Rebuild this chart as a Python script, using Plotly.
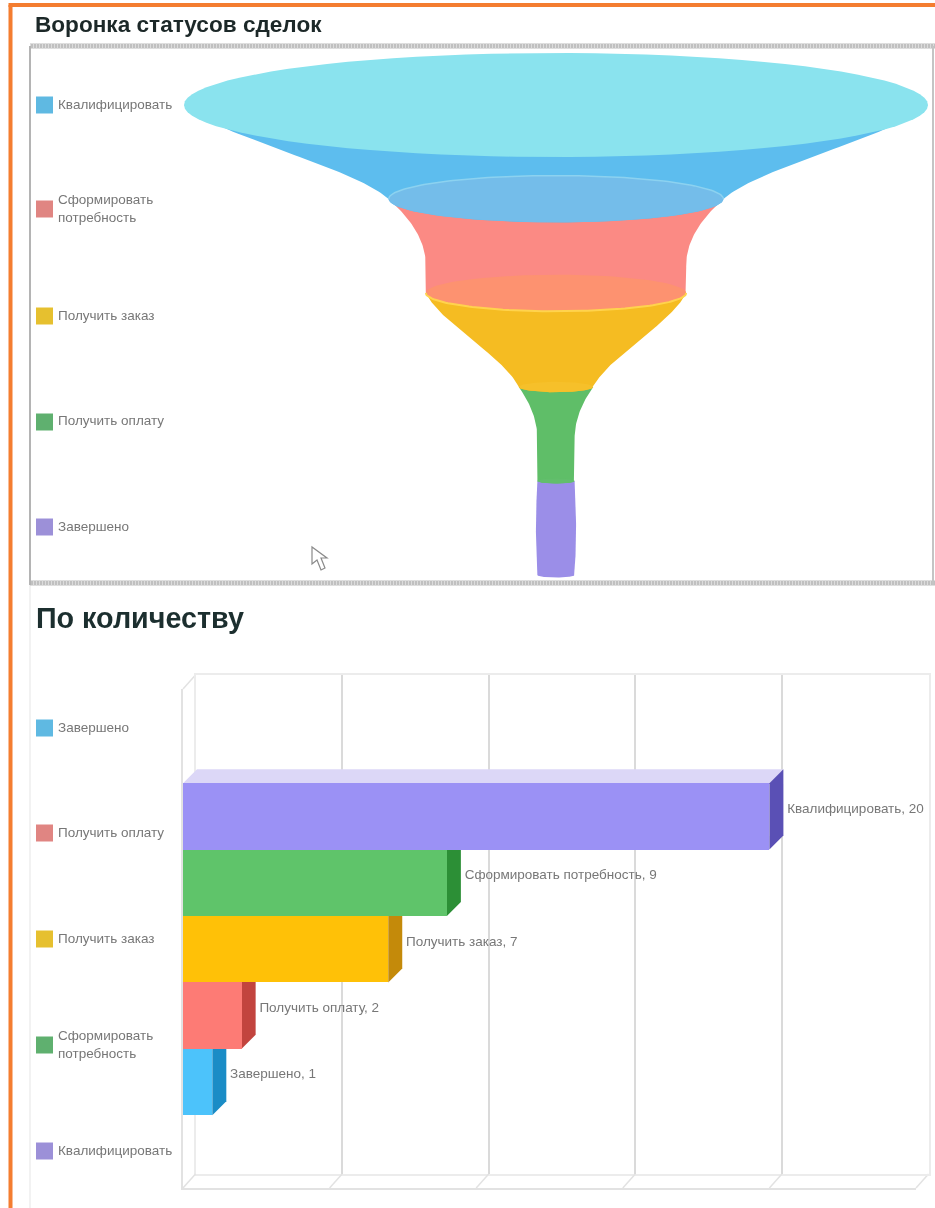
import math
import plotly.graph_objects as go

# ---------- data ----------
funnel_title = "Воронка статусов сделок"
bar_title = "По количеству"
funnel_labels = ["Квалифицировать", "Сформировать<br>потребность", "Получить заказ", "Получить оплату", "Завершено"]
funnel_values = [20, 9, 7, 2, 1]
funnel_legend_colors = ["#5fb9e2", "#e08582", "#e6c02f", "#5fb06f", "#9c90d8"]
funnel_body_colors = ["#5dbdee", "#fb8a84", "#f5bc22", "#5fbe68", "#9b8ee8"]
funnel_inner_colors = ["#74bdea", "#fd9270", "#f6c02a", "#62be6c", None]
funnel_shoulder = [None, 0.7, None, 0.55, None]

bar_legend_labels = ["Завершено", "Получить оплату", "Получить заказ", "Сформировать<br>потребность", "Квалифицировать"]
bar_legend_colors = ["#5fb9e2", "#e08582", "#e6c02f", "#5fb06f", "#9c90d8"]
bar_labels = ["Завершено", "Получить оплату", "Получить заказ", "Сформировать потребность", "Квалифицировать"]
bar_values = [1, 2, 7, 9, 20]
bar_positions = [0, 1, 2, 3, 4]
bar_colors = ["#4cc3fb", "#fd7b75", "#ffc107", "#5fc46a", "#9b91f5"]
bar_side_colors = ["#1a8cc6", "#c2443e", "#c48a0a", "#2c8f36", "#5a50b5"]
bar_top_colors = ["#bde8fd", "#fdd0ce", "#ffe9a8", "#c4eac8", "#dcd7f7"]
x_ticks = [0, 5, 10, 15, 20, 25]

# ---------- layout constants ----------
W, H = 935, 1208
PX_PER_VALUE = 37.2
PX_PER_LEVEL = 94
FUNNEL_CX, FUNNEL_TOP = 556, 105
ELLIPSE = 0.14
K = PX_PER_VALUE / 2 * ELLIPSE / PX_PER_LEVEL
FRONT_L, FRONT_R, FRONT_T, FRONT_B = 183, 916, 689, 1188
DEPTH = 14
WALL_SHIFT = 12.5
BAND = 66.4
BASE_Y = 1082
PX_PER_UNIT = (FRONT_R - FRONT_L) / x_ticks[-1]
dx = DEPTH / PX_PER_UNIT
dx_wall = WALL_SHIFT / PX_PER_UNIT
dy = DEPTH / BAND
y_low, y_high = (BASE_Y - FRONT_B) / BAND, (BASE_Y - FRONT_T) / BAND
TEXT = "#777777"
FONT = "Liberation Sans"


def fx(px):
    return px / W


def fy(py):
    return 1 - py / H


def ease(t, end):
    if end is None:
        return (t + 3 * t * t - 2 * t * t * t) / 2
    u = min(t / end, 1)
    return 1 - (1 - u) ** 2


def ellipse(value, level, a0=0, a1=360, n=90):
    xs, ys = [], []
    for i in range(n + 1):
        a = math.radians(a0 + (a1 - a0) * i / n)
        xs.append(value / 2 * math.cos(a))
        ys.append(level + value * K * math.sin(a))
    return xs, ys


def stage(i):
    v0 = funnel_values[i]
    last = i == len(funnel_values) - 1
    v1 = v0 if last else funnel_values[i + 1]
    ts = [k / 60 for k in range(61)]
    if last:
        hw = [v0 / 2 * (1 + 0.08 * math.sin(math.pi * t)) for t in ts]
    else:
        hw = [(v0 + (v1 - v0) * ease(t, funnel_shoulder[i])) / 2 for t in ts]
    ly = [i + t for t in ts]
    ax, ay = ellipse(v1, i + 1, 0, 180)
    xs = [h for h in hw] + ax + [-h for h in reversed(hw)]
    ys = ly + ay + list(reversed(ly))
    return xs, ys


fig = go.Figure()


def poly(xs, ys, color, xa, ya):
    fig.add_trace(go.Scatter(
        x=xs, y=ys, xaxis=xa, yaxis=ya, mode="lines", fill="toself", fillcolor=color,
        line=dict(color=color, width=0), hoverinfo="skip", showlegend=False, cliponaxis=False))


# ---------- funnel ----------
for i in reversed(range(len(funnel_values))):
    xs, ys = stage(i)
    poly(xs, ys, funnel_body_colors[i], "x", "y")
    if funnel_inner_colors[i]:
        ex, ey = ellipse(funnel_values[i + 1], i + 1)
        poly(ex, ey, funnel_inner_colors[i], "x", "y")
    if i == 1:
        ex, ey = ellipse(funnel_values[2], 2, 0, 180)
        fig.add_trace(go.Scatter(x=ex, y=ey, xaxis="x", yaxis="y", mode="lines",
                                 line=dict(color="#ffd34d", width=2), hoverinfo="skip", showlegend=False))
    if i == 0:
        ex, ey = ellipse(funnel_values[1], 1, 180, 360)
        fig.add_trace(go.Scatter(x=ex, y=ey, xaxis="x", yaxis="y", mode="lines",
                                 line=dict(color="#8cd2f0", width=1.5), hoverinfo="skip", showlegend=False))
ex, ey = ellipse(funnel_values[0], 0)
poly(ex, ey, "#8ae3ee", "x", "y")

# ---------- bar chart: back wall (its axes carry the grid) ----------
fig.add_trace(go.Scatter(x=[x_ticks[0], x_ticks[-1]], y=[0, 1], xaxis="x2", yaxis="y2", mode="markers",
                         marker=dict(opacity=0), hoverinfo="skip", showlegend=False))

# ---------- bar chart: floor and faces ----------
fx_lines, fy_lines = [], []
for t in x_ticks[:-1]:
    fx_lines += [t, t + dx_wall, None]
    fy_lines += [y_low, y_low + dy, None]
fig.add_trace(go.Scatter(x=fx_lines, y=fy_lines, xaxis="x3", yaxis="y3", mode="lines", cliponaxis=False,
                         line=dict(color="#e2e2e2", width=1.5), hoverinfo="skip", showlegend=False))
for p, v, cs, ct in zip(bar_positions, bar_values, bar_side_colors, bar_top_colors):
    poly([0, dx, v + dx, v, 0], [p + .5, p + .5 + dy, p + .5 + dy, p + .5, p + .5], ct, "x3", "y3")
    poly([v, v + dx, v + dx, v, v], [p - .5, p - .5 + dy, p + .5 + dy, p + .5, p - .5], cs, "x3", "y3")

# ---------- bar chart: bars and labels ----------
fig.add_trace(go.Bar(y=bar_positions, x=bar_values, orientation="h", width=1, xaxis="x4", yaxis="y4",
                     marker=dict(color=bar_colors, line=dict(width=0)), hoverinfo="skip", showlegend=False))
fig.add_trace(go.Scatter(
    x=[v + dx for v in bar_values], y=[p + dy / 2 for p in bar_positions], xaxis="x4", yaxis="y4",
    mode="text", textposition="middle right", cliponaxis=False,
    text=[" %s, %d" % (l, v) for l, v in zip(bar_labels, bar_values)],
    textfont=dict(family=FONT, size=13.5, color=TEXT), hoverinfo="skip", showlegend=False))

# ---------- frame ----------
shapes = []


def line(x0, y0, x1, y1, color, width, dash="solid"):
    shapes.append(dict(type="line", xref="paper", yref="paper", x0=fx(x0), y0=fy(y0), x1=fx(x1), y1=fy(y1),
                       line=dict(color=color, width=width, dash=dash), layer="below"))


line(10.5, 5, 10.5, H, "#f47d30", 4)
line(8.5, 5, W, 5, "#f47d30", 4)
line(30, 585, 30, H, "#eeeeee", 1.5)
for a in [(30, 46, W, 46), (30, 583, W, 583)]:
    line(*a, "#c0c0c0", 5)
    line(*a, "#dcdcdc", 5, "1px,2px")
line(30, 46, 30, 585, "#b4b4b4", 2)
line(933, 46, 933, 585, "#c4c4c4", 2)

# the two wall corners that lie outside the front axes
line(FRONT_L, FRONT_T, FRONT_L + WALL_SHIFT, FRONT_T - DEPTH, "#e2e2e2", 1.5)
line(FRONT_R, FRONT_B, FRONT_R + WALL_SHIFT, FRONT_B - DEPTH, "#e2e2e2", 1.5)

# legend swatches and text
annots = []
for ys, labels, colors in [([105, 209, 316, 422, 527], funnel_labels, funnel_legend_colors),
                           ([728, 833, 939, 1045, 1151], bar_legend_labels, bar_legend_colors)]:
    for y, lab, col in zip(ys, labels, colors):
        shapes.append(dict(type="rect", xref="paper", yref="paper", x0=fx(36), x1=fx(53), y0=fy(y - 8.5), y1=fy(y + 8.5),
                           fillcolor=col, line=dict(width=0)))
        annots.append(dict(xref="paper", yref="paper", x=fx(56), y=fy(y - 1), xanchor="left", yanchor="middle",
                           align="left", showarrow=False, text=lab,
                           font=dict(family=FONT, size=13.5, color=TEXT)))

annots.append(dict(xref="paper", yref="paper", x=fx(33), y=fy(25), xanchor="left", yanchor="middle", showarrow=False,
                   text="<b>%s</b>" % funnel_title, font=dict(family=FONT, size=22.6, color="#1c2828")))
annots.append(dict(xref="paper", yref="paper", x=fx(34), y=fy(618), xanchor="left", yanchor="middle", showarrow=False,
                   text="<b>%s</b>" % bar_title, font=dict(family=FONT, size=28.7, color="#1c2f2f")))

# mouse pointer seen in the screenshot
pts = [(312, 547), (312, 564), (317, 560), (321, 570), (325, 568), (321, 558), (327, 558)]
shapes.append(dict(type="path", xref="paper", yref="paper",
                   path="M " + " L ".join("%.5f,%.5f" % (fx(a), fy(b)) for a, b in pts) + " Z",
                   fillcolor="#ffffff", line=dict(color="#8a8a8a", width=1.2)))

hidden = dict(visible=False, fixedrange=True)
grid_col = "#dadada"
wall_line = "#ececec"
fig.update_layout(
    width=W, height=H, autosize=False, margin=dict(l=0, r=0, t=0, b=0),
    paper_bgcolor="white", plot_bgcolor="rgba(0,0,0,0)", bargap=0,
    shapes=shapes, annotations=annots,
    xaxis=dict(hidden, domain=[0, 1], range=[-FUNNEL_CX / PX_PER_VALUE, (W - FUNNEL_CX) / PX_PER_VALUE]),
    yaxis=dict(hidden, domain=[0, 1], range=[(H - FUNNEL_TOP) / PX_PER_LEVEL, -FUNNEL_TOP / PX_PER_LEVEL]),
    xaxis2=dict(domain=[fx(FRONT_L + WALL_SHIFT), fx(FRONT_R + WALL_SHIFT)], range=[x_ticks[0], x_ticks[-1]], anchor="y2",
                tickvals=x_ticks[1:-1], showgrid=True, gridcolor=grid_col, gridwidth=1.5, zeroline=False, showline=True,
                linecolor=wall_line, linewidth=1.5, mirror=True, showticklabels=False, ticks="", fixedrange=True),
    yaxis2=dict(domain=[fy(FRONT_B - DEPTH), fy(FRONT_T - DEPTH)], range=[0, 1], anchor="x2", showgrid=False,
                zeroline=False, showline=True, linecolor=wall_line, linewidth=1.5, mirror=True,
                showticklabels=False, ticks="", fixedrange=True),
    xaxis3=dict(domain=[fx(FRONT_L), fx(FRONT_R)], range=[x_ticks[0], x_ticks[-1]], anchor="y3", showgrid=False,
                zeroline=False, showline=True, linecolor="#e2e2e2", linewidth=1.5, showticklabels=False, ticks="",
                fixedrange=True),
    yaxis3=dict(domain=[fy(FRONT_B), fy(FRONT_T)], range=[y_low, y_high], anchor="x3", showgrid=False, zeroline=False,
                showline=True, linecolor="#e2e2e2", linewidth=1.5, showticklabels=False, ticks="", fixedrange=True),
    xaxis4=dict(hidden, domain=[fx(FRONT_L), fx(FRONT_R)], range=[x_ticks[0], x_ticks[-1]], anchor="y4"),
    yaxis4=dict(hidden, domain=[fy(FRONT_B), fy(FRONT_T)], range=[y_low, y_high], anchor="x4"),
)

fig.write_html("out.html", config=dict(displayModeBar=False),
               post_script="document.body.style.margin='0';"
                           "document.querySelector('.plotly-graph-div').style.filter='blur(0.7px)';")
